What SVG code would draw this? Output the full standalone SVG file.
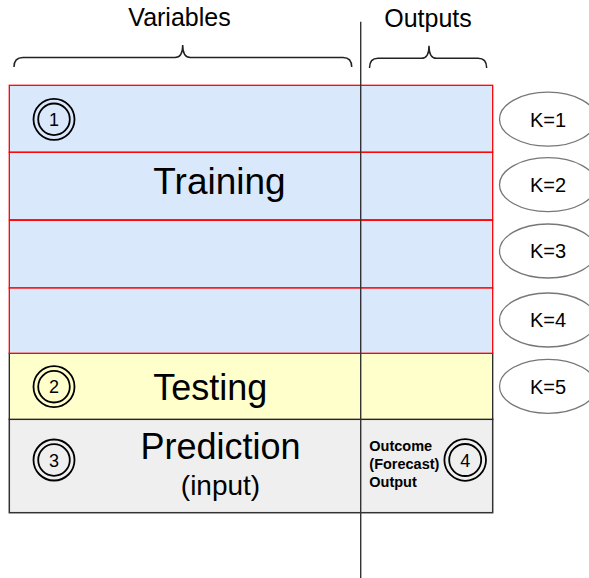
<svg xmlns="http://www.w3.org/2000/svg" width="589" height="578" viewBox="0 0 589 578">
  <style>
    text { font-family: "Liberation Sans", Arial, Helvetica, sans-serif; fill: #000; }
    .big { font-size: 36px; text-anchor: middle; }
    .head { font-size: 25px; text-anchor: middle; }
    .k { font-size: 20px; text-anchor: middle; }
    .num { font-size: 18px; text-anchor: middle; }
    .small { font-size: 14.5px; font-weight: bold; }
    .train { fill: #dae8fc; stroke: #ff0000; stroke-width: 1.3; }
    .test { fill: #ffffcc; stroke: #222; stroke-width: 1.3; }
    .pred { fill: #efefef; stroke: #333; stroke-width: 1.5; }
    .fold { fill: #fff; stroke: #777; stroke-width: 1.3; }
    .ring { fill: none; stroke: #000; stroke-width: 1.8; }
    .brace { fill: none; stroke: #222; stroke-width: 1.5; }
  </style>
  <rect width="589" height="578" fill="#fff"/>

  <!-- column headings -->
  <g id="heading-variables">
    <text class="head" x="179.5" y="26">Variables</text>
    <path class="brace" d="M14,67 Q14,57.5 23,57.5 L175,57.5 Q182.7,57.5 182.7,45 Q182.7,57.5 190.4,57.5 L343,57.5 Q351.7,57.5 351.7,67"/>
  </g>
  <g id="heading-outputs">
    <text class="head" x="428" y="27">Outputs</text>
    <path class="brace" d="M369.5,68 Q369.5,58.3 378,58.3 L421.5,58.3 Q429,58.3 429,45.7 Q429,58.3 436.5,58.3 L478,58.3 Q486.7,58.3 486.7,68"/>
  </g>

  <!-- prediction row -->
  <g id="prediction">
    <rect class="pred" x="9.3" y="419.3" width="483.4" height="93.4"/>
    <text class="big" x="220.5" y="459">Prediction</text>
    <text x="220.5" y="495" style="font-size:28px;text-anchor:middle">(input)</text>
    <circle class="ring" cx="54" cy="460" r="20.5"/>
    <circle class="ring" cx="54" cy="460" r="15.8"/>
    <text class="num" x="54" y="466.5">3</text>
  </g>

  <g id="outcome">
    <text class="small" x="369.3" y="450.5">Outcome</text>
    <text class="small" x="369.3" y="468.5">(Forecast)</text>
    <text class="small" x="369.3" y="486.5">Output</text>
    <circle class="ring" cx="465.2" cy="460" r="20.8"/>
    <circle class="ring" cx="465.2" cy="460" r="16"/>
    <text class="num" x="465.2" y="466.5">4</text>
  </g>

  <!-- testing row -->
  <g id="testing">
    <rect class="test" x="9.3" y="353.3" width="483.4" height="66"/>
    <text class="big" x="210.3" y="400">Testing</text>
    <circle class="ring" cx="54" cy="386.7" r="20.5"/>
    <circle class="ring" cx="54" cy="386.7" r="15.8"/>
    <text class="num" x="54" y="393.2">2</text>
  </g>

  <!-- training rows -->
  <g id="training">
    <rect x="9.8" y="86.5" width="482.4" height="266.5" fill="#dae8fc" stroke="#6c8ebf" stroke-width="1"/>
    <rect class="train" x="9.3" y="85.3" width="483.4" height="67"/>
    <rect class="train" x="9.3" y="152.3" width="483.4" height="67.5"/>
    <rect class="train" x="9.3" y="220.3" width="483.4" height="67.7"/>
    <rect class="train" x="9.3" y="288" width="483.4" height="65.3"/>
    <text class="big" x="219.5" y="194" style="font-size:37px">Training</text>
    <circle class="ring" cx="54" cy="119.3" r="20.5"/>
    <circle class="ring" cx="54" cy="119.3" r="15.8"/>
    <text class="num" x="54" y="125.8">1</text>
  </g>

  <!-- column divider -->
  <g id="connectors">
    <line x1="360.7" y1="21.7" x2="360.7" y2="578" stroke="#333" stroke-width="1.4"/>
  </g>

  <!-- folds -->
  <g id="fold-1">
    <ellipse class="fold" cx="548" cy="119.2" rx="48.5" ry="27"/>
    <text class="k" x="548" y="126.5">K=1</text>
  </g>
  <g id="fold-2">
    <ellipse class="fold" cx="548" cy="184.7" rx="48.5" ry="27"/>
    <text class="k" x="548" y="192">K=2</text>
  </g>
  <g id="fold-3">
    <ellipse class="fold" cx="548" cy="251" rx="48.5" ry="27"/>
    <text class="k" x="548" y="258.3">K=3</text>
  </g>
  <g id="fold-4">
    <ellipse class="fold" cx="548" cy="320" rx="48.5" ry="27"/>
    <text class="k" x="548" y="327.3">K=4</text>
  </g>
  <g id="fold-5">
    <ellipse class="fold" cx="548" cy="386.3" rx="48.5" ry="27"/>
    <text class="k" x="548" y="393.6">K=5</text>
  </g>
</svg>
